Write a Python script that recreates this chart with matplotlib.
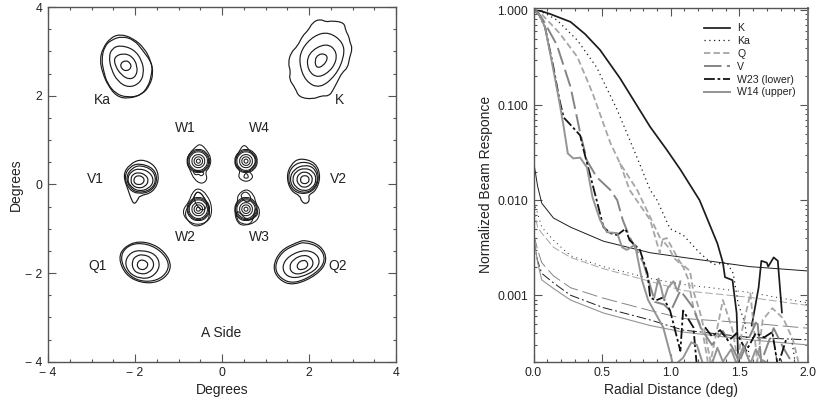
import numpy as np
import matplotlib
matplotlib.use("Agg")
import matplotlib.pyplot as plt
from matplotlib.path import Path
from matplotlib.patches import PathPatch

plt.rcParams["font.family"] = ["Liberation Sans", "DejaVu Sans"]

# --- left panel: beam contours, in degrees ---
KA_RINGS = [
    [(-2.35, 3.39), (-2.05, 3.30), (-1.78, 3.07), (-1.63, 2.77), (-1.58, 2.50), (-1.66, 2.23), (-1.83, 2.03), (-2.15, 1.93), (-2.42, 1.98), (-2.62, 2.23), (-2.74, 2.50), (-2.81, 2.80), (-2.74, 3.07), (-2.57, 3.30)],
    [(-2.30, 3.34), (-2.02, 3.26), (-1.82, 3.02), (-1.60, 2.72), (-1.62, 2.46), (-1.70, 2.20), (-1.88, 2.00), (-2.18, 1.96), (-2.44, 2.04), (-2.64, 2.28), (-2.72, 2.55), (-2.77, 2.82), (-2.70, 3.12), (-2.54, 3.26)],
    [(-2.35, 3.14), (-2.03, 3.05), (-1.84, 2.80), (-1.79, 2.50), (-1.90, 2.27), (-2.15, 2.18), (-2.40, 2.32), (-2.55, 2.60), (-2.60, 2.88), (-2.53, 3.06)],
    [(-2.28, 2.96), (-2.06, 2.89), (-1.94, 2.66), (-1.97, 2.44), (-2.13, 2.36), (-2.32, 2.47), (-2.46, 2.68), (-2.48, 2.87)],
    [(-2.21, 2.80), (-2.11, 2.74), (-2.08, 2.63), (-2.19, 2.55), (-2.31, 2.60), (-2.34, 2.73)],
]
K_RINGS = [
    [(2.25, 3.73), (2.40, 3.66), (2.52, 3.69), (2.81, 3.65), (2.84, 3.47), (2.92, 3.33), (2.94, 3.20), (3.00, 3.07), (2.93, 2.85), (2.89, 2.63), (2.76, 2.52), (2.66, 2.33), (2.55, 2.12), (2.46, 1.99), (2.28, 2.00), (2.10, 1.92), (1.77, 1.96), (1.68, 2.18), (1.54, 2.37), (1.58, 2.55), (1.52, 2.72), (1.58, 2.97), (1.74, 3.12), (1.85, 3.35), (1.98, 3.47), (2.08, 3.65)],
    [(2.46, 3.44), (2.79, 3.20), (2.81, 2.88), (2.62, 2.46), (2.25, 2.16), (1.92, 2.32), (1.77, 2.73), (1.83, 3.06), (2.12, 3.36)],
    [(2.40, 3.20), (2.66, 2.98), (2.57, 2.62), (2.21, 2.38), (1.96, 2.58), (1.97, 2.96)],
    [(2.36, 2.95), (2.44, 2.85), (2.33, 2.67), (2.17, 2.62), (2.13, 2.80), (2.21, 2.93)],
]
V1_RINGS = [
    [(-1.85, 0.58), (-1.52, 0.42), (-1.44, 0.09), (-1.60, -0.19), (-1.90, -0.26), (-1.93, -0.34), (-2.02, -0.46), (-2.10, -0.30), (-2.15, -0.15), (-2.28, 0.21), (-2.13, 0.45)],
    [(-1.90, 0.48), (-1.56, 0.36), (-1.48, 0.08), (-1.63, -0.16), (-1.92, -0.22), (-2.14, -0.12), (-2.25, 0.18), (-2.12, 0.40)],
    [(-1.88, 0.44), (-1.58, 0.32), (-1.51, 0.06), (-1.66, -0.14), (-1.94, -0.19), (-2.12, -0.08), (-2.21, 0.16), (-2.08, 0.36)],
    [(-1.90, 0.36), (-1.66, 0.28), (-1.56, 0.08), (-1.68, -0.10), (-1.92, -0.16), (-2.12, -0.04), (-2.18, 0.14), (-2.08, 0.30)],
    [(-1.92, 0.27), (-1.76, 0.22), (-1.68, 0.09), (-1.76, -0.05), (-1.92, -0.09), (-2.07, -0.02), (-2.10, 0.12), (-2.05, 0.23)],
    [(-1.92, 0.20), (-1.82, 0.17), (-1.78, 0.09), (-1.83, 0.01), (-1.92, -0.01), (-2.01, 0.02), (-2.03, 0.10), (-2.00, 0.17)],
]
V2_RINGS = [
    [(1.79, 0.60), (2.16, 0.49), (2.27, 0.17), (2.16, -0.15), (1.98, -0.24), (2.02, -0.36), (1.93, -0.45), (1.82, -0.38), (1.80, -0.26), (1.58, -0.15), (1.48, 0.17), (1.58, 0.45)],
    [(1.84, 0.52), (2.14, 0.44), (2.24, 0.14), (2.12, -0.14), (1.85, -0.23), (1.60, -0.12), (1.51, 0.15), (1.60, 0.40)],
    [(1.90, 0.44), (2.12, 0.38), (2.22, 0.12), (2.10, -0.12), (1.88, -0.20), (1.64, -0.10), (1.55, 0.13), (1.66, 0.35)],
    [(1.90, 0.37), (2.10, 0.30), (2.18, 0.10), (2.08, -0.09), (1.88, -0.16), (1.68, -0.06), (1.61, 0.12), (1.70, 0.30)],
    [(1.90, 0.29), (2.04, 0.23), (2.09, 0.10), (2.02, -0.03), (1.88, -0.08), (1.76, -0.01), (1.71, 0.12), (1.77, 0.24)],
    [(1.90, 0.20), (1.98, 0.18), (2.01, 0.10), (1.97, 0.03), (1.89, 0.01), (1.82, 0.04), (1.80, 0.11), (1.83, 0.18)],
]
Q1_RINGS = [
    [(-1.92, -1.27), (-1.48, -1.38), (-1.19, -1.69), (-1.19, -1.99), (-1.48, -2.22), (-1.88, -2.22), (-2.22, -2.04), (-2.38, -1.67), (-2.26, -1.42)],
    [(-1.92, -1.31), (-1.52, -1.41), (-1.23, -1.70), (-1.24, -1.97), (-1.50, -2.18), (-1.90, -2.19), (-2.20, -2.00), (-2.34, -1.66), (-2.22, -1.42)],
    [(-1.85, -1.48), (-1.52, -1.57), (-1.41, -1.85), (-1.60, -2.10), (-1.88, -2.13), (-2.14, -2.00), (-2.24, -1.75), (-2.10, -1.53)],
    [(-1.82, -1.58), (-1.62, -1.65), (-1.55, -1.84), (-1.68, -2.00), (-1.88, -2.03), (-2.05, -1.93), (-2.07, -1.72), (-1.97, -1.61)],
    [(-1.83, -1.70), (-1.72, -1.75), (-1.70, -1.83), (-1.76, -1.91), (-1.85, -1.93), (-1.94, -1.88), (-1.95, -1.78), (-1.90, -1.72)],
]
Q2_RINGS = [
    [(1.91, -1.25), (2.28, -1.38), (2.43, -1.71), (2.20, -2.04), (1.64, -2.29), (1.30, -2.15), (1.16, -1.86), (1.34, -1.49), (1.72, -1.31)],
    [(1.90, -1.30), (2.25, -1.41), (2.39, -1.71), (2.17, -2.01), (1.66, -2.25), (1.33, -2.12), (1.20, -1.86), (1.37, -1.52), (1.72, -1.35)],
    [(1.93, -1.46), (2.24, -1.61), (2.22, -1.90), (1.80, -2.11), (1.49, -2.09), (1.37, -1.86), (1.53, -1.61)],
    [(1.89, -1.58), (2.08, -1.67), (2.10, -1.86), (1.85, -2.02), (1.63, -2.02), (1.54, -1.87), (1.63, -1.69)],
    [(1.87, -1.70), (1.97, -1.75), (1.97, -1.87), (1.84, -1.93), (1.73, -1.91), (1.73, -1.78)],
]

W1_OUTER = [(-0.505, 0.92), (-0.367, 0.795), (-0.24, 0.585), (-0.29, 0.37), (-0.39, 0.283), (-0.33, 0.11), (-0.467, 0.0), (-0.64, 0.11), (-0.735, 0.32), (-0.82, 0.51), (-0.75, 0.70), (-0.62, 0.83)]
W1_NOTCH = [(-0.39, 0.28), (-0.47, 0.17), (-0.54, 0.24), (-0.62, 0.20), (-0.68, 0.33)]
W4_OUTER = [(0.506, 0.92), (0.644, 0.75), (0.82, 0.547), (0.68, 0.36), (0.606, 0.30), (0.74, 0.17), (0.567, 0.04), (0.36, 0.15), (0.43, 0.32), (0.28, 0.47), (0.376, 0.72)]
W4_SPOT = [(0.48, 0.14), (0.552, 0.28), (0.63, 0.14)]
W2_OUTER = [(-0.544, -0.07), (-0.33, -0.243), (-0.217, -0.544), (-0.29, -0.83), (-0.582, -0.93), (-0.84, -0.79), (-0.91, -0.58), (-0.755, -0.394), (-0.69, -0.19)]
W2_OUTER2 = [(-0.55, -0.15), (-0.40, -0.29), (-0.26, -0.60), (-0.34, -0.86), (-0.60, -0.97), (-0.80, -0.82), (-0.86, -0.62), (-0.70, -0.40), (-0.63, -0.24)]
W2_LOOP = [(-0.544, -0.15), (-0.42, -0.27), (-0.33, -0.48), (-0.45, -0.62), (-0.64, -0.40), (-0.64, -0.24)]
W3_OUTER = [(0.567, -0.09), (0.74, -0.243), (0.775, -0.43), (0.88, -0.58), (0.82, -0.83), (0.529, -0.94), (0.356, -0.88), (0.28, -0.62), (0.36, -0.39), (0.36, -0.23)]
W3_OUTER2 = [(0.58, -0.83), (0.78, -0.74), (0.84, -0.62), (0.76, -0.50), (0.70, -0.90), (0.45, -0.90), (0.33, -0.78), (0.33, -0.55)]
W3_LOOP = [(0.567, -0.15), (0.69, -0.32), (0.583, -0.42), (0.455, -0.32), (0.43, -0.22)]
W_CENTERS = [(-0.544, 0.524), (-0.544, -0.56), (0.552, -0.56), (0.552, 0.524)]
# offsets of the tight core rings from each W beam centre
W_CORE = [
    [(0.0, 0.29), (0.20, 0.20), (0.28, 0.0), (0.20, -0.20), (0.0, -0.28), (-0.20, -0.20), (-0.28, 0.0), (-0.20, 0.20)],
    [(0.0, 0.26), (0.18, 0.18), (0.26, 0.0), (0.18, -0.18), (0.0, -0.26), (-0.18, -0.18), (-0.26, 0.0), (-0.18, 0.18)],
    [(0.0, 0.23), (0.16, 0.16), (0.23, 0.0), (0.16, -0.16), (0.0, -0.23), (-0.16, -0.16), (-0.23, 0.0), (-0.16, 0.16)],
    [(0.0, 0.16), (0.115, 0.115), (0.16, 0.0), (0.115, -0.115), (0.0, -0.16), (-0.115, -0.115), (-0.16, 0.0), (-0.115, 0.115)],
    [(0.0, 0.105), (0.075, 0.075), (0.105, 0.0), (0.075, -0.075), (0.0, -0.105), (-0.075, -0.075), (-0.105, 0.0), (-0.075, 0.075)],
    [(0.0, 0.05), (0.035, 0.035), (0.05, 0.0), (0.035, -0.035), (0.0, -0.05), (-0.035, -0.035), (-0.05, 0.0), (-0.035, 0.035)],
]
BEAM_LABELS = [("Ka", -2.76, 1.90), ("K", 2.69, 1.90), ("V1", -2.90, 0.11), ("V2", 2.67, 0.11),
               ("W1", -0.85, 1.27), ("W4", 0.87, 1.27), ("W2", -0.83, -1.19), ("W3", 0.87, -1.19),
               ("Q1", -2.85, -1.85), ("Q2", 2.67, -1.85), ("A Side", -0.02, -3.36)]

# --- right panel: radial beam response ---
K_R = [0.0, 0.06, 0.12, 0.27, 0.375, 0.485, 0.63, 0.85, 0.97, 1.07, 1.21, 1.34, 1.38, 1.395, 1.45, 1.48, 1.49, 1.50, np.nan, 1.59, 1.64, 1.66, 1.70, 1.71, 1.75, 1.78, 1.81]
K_V = [1.0, 0.97, 0.91, 0.75, 0.56, 0.38, 0.192, 0.059, 0.034, 0.021, 0.010, 0.0035, 0.0022, 0.00155, 0.00144, 0.00065, 0.00025, 0.00018, np.nan, 0.00048, 0.0012, 0.0023, 0.0022, 0.0020, 0.0025, 0.0023, 0.00066]
KA_R = [0.0, 0.08, 0.17, 0.32, 0.46, 0.61, 0.755, 0.85, 0.90, 0.995, 1.09, 1.21, 1.31, 1.41, 1.455, 1.49, 1.54, 1.58, np.nan, 1.74, 1.78, np.nan, 1.88, 1.91]
KA_V = [1.0, 0.93, 0.785, 0.48, 0.25, 0.089, 0.028, 0.0128, 0.010, 0.0050, 0.0043, 0.0028, 0.0021, 0.0022, 0.0017, 0.00083, 0.00051, 0.00018, np.nan, 0.0004, 0.00018, np.nan, 0.00035, 0.00018]
QA_R = [0.0, 0.05, 0.10, 0.19, 0.32, 0.43, 0.56, 0.63, 0.755, 0.93, 0.97, 1.07, 1.14, 1.165, 1.21, 1.25, 1.29, 1.38, 1.45, 1.49, 1.52, 1.58, 1.63, 1.67, 1.74, 1.82, 1.89, 1.93]
QA_V = [1.0, 0.93, 0.785, 0.57, 0.32, 0.134, 0.04, 0.0245, 0.0128, 0.0038, 0.0040, 0.0022, 0.0018, 0.0011, 0.00069, 0.0004, 0.0002, 0.00089, 0.00043, 0.0002, 0.00043, 0.00105, 0.0002, 0.00055, 0.00073, 0.00057, 0.00034, 0.0002]
QB_R = [0.63, 0.70, 0.85, 0.92, 0.94, 0.99, 1.02, 1.09, 1.125, 1.165, 1.23, 1.27]
QB_V = [0.0245, 0.0128, 0.0062, 0.0028, 0.0038, 0.0031, 0.0025, 0.0020, 0.0015, 0.00074, 0.00043, 0.0002]
V_R = [0.0, 0.03, 0.07, 0.17, 0.27, 0.34, 0.39, 0.46, 0.56, 0.61, 0.65, 0.70, 0.80, 0.885, 0.95, 1.0, 1.07, 1.12, 1.16, 1.22, 1.30, 1.38, 1.45, 1.50, 1.56, 1.63, 1.66, 1.75, 1.82, 1.88]
V_V = [1.0, 0.95, 0.785, 0.43, 0.155, 0.051, 0.026, 0.0175, 0.0128, 0.010, 0.0062, 0.0041, 0.0022, 0.00085, 0.0008, 0.00068, 0.00112, 0.0009, 0.00075, 0.00045, 0.0003, 0.00042, 0.00028, 0.0002, 0.00033, 0.00055, 0.0002, 0.00045, 0.00028, 0.0002]
W23_R = [0.0, 0.04, 0.084, 0.145, 0.19, 0.22, 0.27, 0.34, 0.36, 0.41, 0.46, 0.51, 0.56, 0.61, 0.67, 0.70, 0.775, 0.83, 0.85, 0.89, 0.945, 0.995, 1.07, 1.09, 1.165, 1.19, np.nan, 1.25, 1.30, 1.36, 1.42, 1.48, 1.55, 1.62, 1.68, 1.74, 1.78, 1.84]
W23_V = [1.0, 0.90, 0.66, 0.25, 0.112, 0.074, 0.062, 0.048, 0.036, 0.019, 0.010, 0.0052, 0.0045, 0.0043, 0.005, 0.0038, 0.003, 0.0017, 0.00095, 0.00088, 0.00095, 0.00069, 0.00026, 0.00069, 0.00046, 0.00018, np.nan, 0.00046, 0.00037, 0.00043, 0.00033, 0.00040, 0.00026, 0.00040, 0.00036, 0.00041, 0.00018, 0.00034]
W14_R = [0.0, 0.04, 0.084, 0.145, 0.19, 0.22, 0.25, 0.29, 0.34, 0.39, 0.43, 0.485, 0.535, 0.61, 0.645, 0.68, 0.74, 0.79, 0.835, 0.945, 1.02, 1.09, 1.15, 1.19, 1.24, np.nan, 0.88, 0.91, 0.93, 0.95, 0.98, 1.02, 1.05, 1.07, np.nan, 1.30, 1.34, 1.38, 1.44, 1.48, 1.53, 1.58, 1.62, 1.66, 1.72]
W14_V = [1.0, 0.90, 0.66, 0.234, 0.105, 0.059, 0.031, 0.0275, 0.028, 0.022, 0.0107, 0.0062, 0.0046, 0.0045, 0.0032, 0.003, 0.0034, 0.00145, 0.00089, 0.00046, 0.00018, 0.00022, 0.00032, 0.0003, 0.00018, np.nan, 0.00095, 0.0015, 0.0012, 0.0009, 0.0012, 0.0014, 0.0011, 0.0014, np.nan, 0.00019, 0.00028, 0.0002, 0.00027, 0.00019, 0.00029, 0.00019, 0.00027, 0.00021, 0.00019]

# thin far side lobe curves
FAR_R = [0.0, 0.03, 0.06, 0.145, 0.27, 0.51, 0.85, 1.09, 1.575, 2.0]
FAR_K = [0.026, 0.014, 0.0093, 0.0065, 0.0052, 0.0037, 0.0028, 0.0025, 0.0020, 0.0018]
FAR_KA = [0.0095, 0.0073, 0.0052, 0.0038, 0.0026, 0.0020, 0.0015, 0.0013, 0.00107, 0.00083]
FAR_Q = [0.008, 0.0052, 0.0045, 0.0032, 0.0025, 0.0019, 0.0014, 0.00112, 0.00095, 0.00078]
FAR_V = [0.0045, 0.003, 0.0022, 0.0016, 0.0012, 0.00093, 0.00069, 0.00057, 0.00051, 0.00045]
FAR_W23 = [0.0038, 0.0023, 0.0017, 0.00135, 0.001, 0.00074, 0.00055, 0.00043, 0.00036, 0.00034]
FAR_W14 = [0.0045, 0.0022, 0.00145, 0.00118, 0.00089, 0.00065, 0.00048, 0.00041, 0.00034, 0.0003]

DARK = "#1c1c1c"
FRAME = "#555555"
Q_GREY = "#a6a6a6"
V_GREY = "#858585"
W14_GREY = "#949494"


def draw_ring(ax, pts, dx=0.0, dy=0.0, lw=0.85):
    # vertices act as quadratic control points so the closed contour comes out smooth
    arr = np.array(pts) + (dx, dy)
    mids = (arr + np.roll(arr, -1, axis=0)) / 2
    verts = [mids[-1]]
    codes = [Path.MOVETO]
    for ctrl, mid in zip(arr, mids):
        verts += [ctrl, mid]
        codes += [Path.CURVE3, Path.CURVE3]
    ax.add_patch(PathPatch(Path(verts, codes), fill=False, edgecolor=DARK, lw=lw))


def style_axes(ax):
    for side in ax.spines.values():
        side.set_color(FRAME)
        side.set_linewidth(1.0)
    ax.tick_params(which="major", direction="in", length=5.5, width=0.8, color=FRAME,
                   top=True, right=True, labelsize=8.8, labelcolor="#222222", pad=4)
    ax.tick_params(which="minor", direction="in", length=2.5, width=0.8, color=FRAME,
                   top=True, right=True)


fig = plt.figure(figsize=(8.30, 4.03), dpi=100)
ax1 = fig.add_axes([48 / 830, 1 - 361.7 / 403, 348 / 830, 354.7 / 403])
ax2 = fig.add_axes([533.5 / 830, 1 - 361.7 / 403, 274.5 / 830, 353.7 / 403])

for rings in (KA_RINGS, K_RINGS, V1_RINGS, V2_RINGS, Q1_RINGS, Q2_RINGS):
    for ring in rings:
        draw_ring(ax1, ring)
for ring in (W1_OUTER, W1_NOTCH, W4_OUTER, W4_SPOT, W2_OUTER, W2_OUTER2, W2_LOOP, W3_OUTER, W3_OUTER2, W3_LOOP):
    draw_ring(ax1, ring, lw=0.75)
for cx, cy in W_CENTERS:
    for ring in W_CORE:
        draw_ring(ax1, ring, cx, cy, lw=0.75)
for name, x, y in BEAM_LABELS:
    ax1.text(x, y, name, fontsize=10, ha="center", va="center", color="#222222")

ax1.set_xlim(-4, 4)
ax1.set_ylim(-4, 4)
ax1.set_xticks([-4, -2, 0, 2, 4])
ax1.set_xticklabels(["\u2212 4", "\u2212 2", "0", "2", "4"])
ax1.set_yticks([-4, -2, 0, 2, 4])
ax1.set_yticklabels(["\u2212 4", "\u2212 2", "0", "2", "4"])
ax1.set_xticks(np.arange(-4, 4.01, 0.5), minor=True)
ax1.set_yticks(np.arange(-4, 4.01, 0.5), minor=True)
style_axes(ax1)
ax1.set_xlabel("Degrees", fontsize=10, color="#222222", labelpad=3)
ax1.set_ylabel("Degrees", fontsize=10, color="#222222", labelpad=2)

# far side lobes first, then the main beam curves on top
ax2.plot(FAR_R, FAR_K, color=DARK, lw=0.7)
ax2.plot(FAR_R, FAR_KA, color=DARK, lw=0.7, ls=(0, (1, 4)))
ax2.plot(FAR_R, FAR_Q, color=Q_GREY, lw=0.7, ls=(0, (8, 3)))
ax2.plot(FAR_R, FAR_V, color=V_GREY, lw=0.7, ls=(0, (16, 5)))
ax2.plot(FAR_R, FAR_W23, color=DARK, lw=0.7, ls=(0, (10, 3, 2, 3)))
ax2.plot(FAR_R, FAR_W14, color=W14_GREY, lw=0.8)

ax2.plot(K_R, K_V, color=DARK, lw=1.25, label="K")
ax2.plot(KA_R, KA_V, color=DARK, lw=0.9, ls=(0, (1, 2.8)), label="Ka")
ax2.plot(QA_R, QA_V, color=Q_GREY, lw=1.3, ls=(0, (3.5, 1.8)), label="Q")
ax2.plot(QB_R, QB_V, color=Q_GREY, lw=1.3, ls=(0, (3.5, 1.8)))
ax2.plot(V_R, V_V, color=V_GREY, lw=1.4, ls=(0, (9, 2.8)), label="V")
ax2.plot(W23_R, W23_V, color="#111111", lw=1.3, ls=(0, (6, 1.5, 1.5, 1.5)), label="W23 (lower)")
ax2.plot(W14_R, W14_V, color=W14_GREY, lw=1.4, label="W14 (upper)")

ax2.set_yscale("log")
ax2.set_xlim(0, 2)
ax2.set_ylim(0.0002, 1.05)
ax2.set_xticks([0, 0.5, 1.0, 1.5, 2.0])
ax2.set_xticklabels(["0.0", "0.5", "1.0", "1.5", "2.0"])
ax2.set_xticks(np.arange(0, 2.01, 0.1), minor=True)
ax2.set_yticks([0.001, 0.01, 0.1, 1.0])
ax2.set_yticklabels(["0.001", "0.010", "0.100", "1.000"])
style_axes(ax2)
ax2.spines["right"].set_linewidth(1.4)
ax2.spines["right"].set_color("#777777")
ax2.set_xlabel("Radial Distance (deg)", fontsize=10, color="#222222", labelpad=3)
ax2.set_ylabel("Normalized Beam Responce", fontsize=10, color="#222222", labelpad=3)

leg = ax2.legend(loc="upper left", bbox_to_anchor=(0.621, 0.957), frameon=False, fontsize=7.6,
                 handlelength=2.5, handletextpad=0.65, labelspacing=0.27, borderpad=0, borderaxespad=0)
for text in leg.get_texts():
    text.set_color("#222222")

fig.savefig("out.png", dpi=100)
plt.close(fig)
